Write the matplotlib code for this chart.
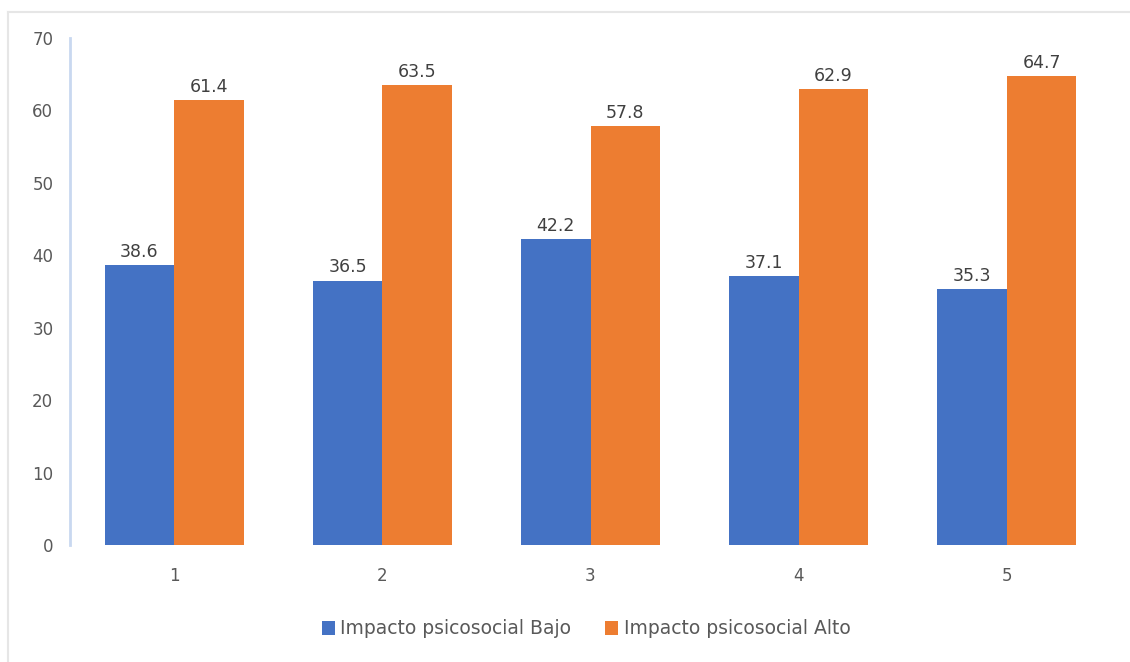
import matplotlib

matplotlib.use("Agg")
import matplotlib.pyplot as plt
import numpy as np
from matplotlib.lines import Line2D

plt.rcParams["font.family"] = ["DejaVu Sans"]

BLUE = "#4472C4"
ORANGE = "#ED7D31"
TEXT = "#595959"

categories = ["1", "2", "3", "4", "5"]
bajo = [38.6, 36.5, 42.2, 37.1, 35.3]
alto = [61.4, 63.5, 57.8, 62.9, 64.7]
series_names = ["Impacto psicosocial Bajo", "Impacto psicosocial Alto"]

fig = plt.figure(figsize=(11.3, 6.62), dpi=100)
# light frame (top and left edges of the chart area)
fx, fy = 7.5 / 1130, 1 - 11.5 / 662
fig.lines.append(Line2D([fx, 1], [fy, fy], transform=fig.transFigure,
                        color="#e6e6e6", linewidth=1.5))
fig.lines.append(Line2D([fx, fx], [0, fy], transform=fig.transFigure,
                        color="#e6e6e6", linewidth=1.5))

ax = fig.add_axes([70 / 1130, 1 - 545 / 662, (1111 - 70) / 1130, (545 - 38) / 662])
x = np.arange(1, len(categories) + 1)
w = 0.334
b1 = ax.bar(x - w / 2, bajo, w, color=BLUE, label=series_names[0])
b2 = ax.bar(x + w / 2, alto, w, color=ORANGE, label=series_names[1])
for bars in (b1, b2):
    for r in bars:
        h = r.get_height()
        ax.text(r.get_x() + r.get_width() / 2, h + 0.6, f"{h:.1f}",
                ha="center", va="bottom", fontsize=12.5, color="#404040")

ax.set_xlim(0.5, 5.5)
ax.set_ylim(0, 70)
ax.set_yticks(range(0, 71, 10))
ax.set_xticks(x)
ax.set_xticklabels(categories)
ax.tick_params(axis="both", length=0, labelsize=12, colors=TEXT)
ax.tick_params(axis="y", pad=12)
ax.tick_params(axis="x", pad=16)
for s in ("top", "right", "bottom"):
    ax.spines[s].set_visible(False)
ax.spines["left"].set_color("#c9d8f0")
ax.spines["left"].set_linewidth(2)

fig.legend(handles=[b1, b2], labels=series_names, loc="center",
           bbox_to_anchor=(586 / 1130, 1 - 629 / 662), ncol=2, frameon=False,
           fontsize=13.5, labelcolor=TEXT, handlelength=0.7, handleheight=0.7,
           handletextpad=0.3, columnspacing=1.8)

fig.savefig("out.png", dpi=100, facecolor="white")
